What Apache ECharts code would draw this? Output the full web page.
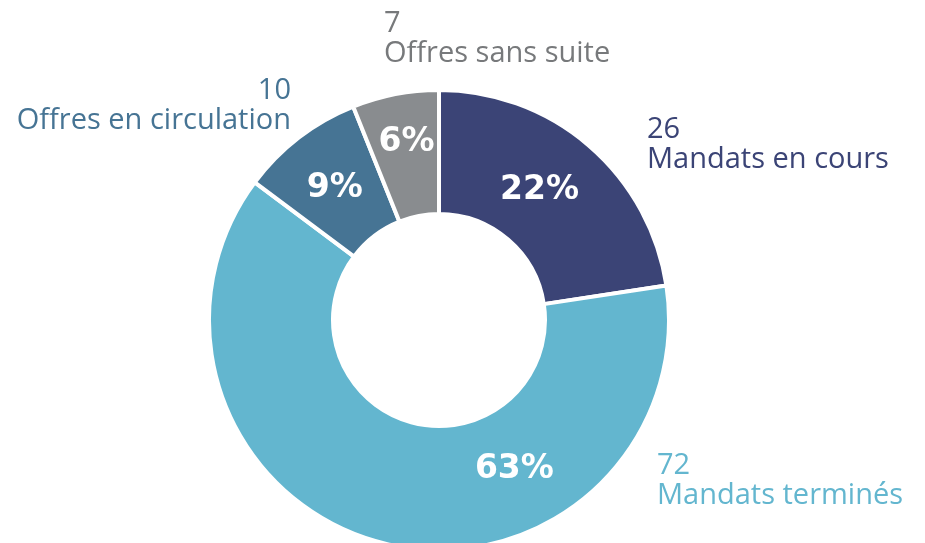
<!DOCTYPE html>
<html lang="fr">

<head>
  <meta charset="UTF-8">
  <title>Mandats et offres</title>
  <style>
    html, body { margin: 0; padding: 0; background: #fff; }
    #root { width: 925px; height: 543px; }
  </style>
</head>

<body>
  <div id="root"></div>
</body>
<script src="https://cdn.jsdelivr.net/npm/echarts@6/dist/echarts.min.js"></script>
<script>
  // données
  const categories = ['Mandats en cours', 'Mandats terminés', 'Offres en circulation', 'Offres sans suite']
  const values = [26, 72, 10, 7]
  const percentLabels = ['22%', '63%', '9%', '6%']

  const colors = ['#3b4476', '#63b6cf', '#467494', '#898c8f']
  const textColors = ['#3b4476', '#63b6cf', '#467494', '#77797b']
  // position des étiquettes extérieures [x, y, align]
  const outerPos = [[647, 115, 'left'], [657, 451, 'left'], [291, 76, 'right'], [384, 9, 'left']]
  // décalage des pourcentages
  const innerOffset = [[-11, 0], [117, -16], [0, 4], [0, -10]]

  const myChart = echarts.init(document.getElementById('root'))

  const option = {
    animation: false,
    series: [
      {
        type: 'pie',
        center: [439, 320],
        radius: [106, 230],
        startAngle: 90,
        clockwise: true,
        silent: true,
        itemStyle: { borderColor: '#fff', borderWidth: 4 },
        label: {
          show: true,
          position: 'inside',
          color: '#fff',
          fontFamily: 'DejaVu Sans',
          fontWeight: 'bold',
          fontSize: 33,
          formatter: p => percentLabels[p.dataIndex]
        },
        labelLine: { show: false },
        data: categories.map((name, i) => ({
          name: name,
          value: values[i],
          itemStyle: { color: colors[i] },
          label: { offset: innerOffset[i] }
        }))
      },
      {
        type: 'pie',
        center: [439, 320],
        radius: [106, 230],
        startAngle: 90,
        clockwise: true,
        silent: true,
        itemStyle: { color: 'transparent' },
        label: {
          show: true,
          position: 'outside',
          fontFamily: 'Open Sans',
          fontSize: 29,
          lineHeight: 30,
          overflow: 'none',
          formatter: '{c}\n{b}'
        },
        labelLine: { show: false },
        labelLayout: function (params) {
          const p = outerPos[params.dataIndex]
          return { x: p[0], y: p[1], align: p[2], verticalAlign: 'top' }
        },
        data: categories.map((name, i) => ({
          name: name,
          value: values[i],
          label: { color: textColors[i] }
        }))
      }
    ]
  }

  myChart.setOption(option)
</script>

</html>
